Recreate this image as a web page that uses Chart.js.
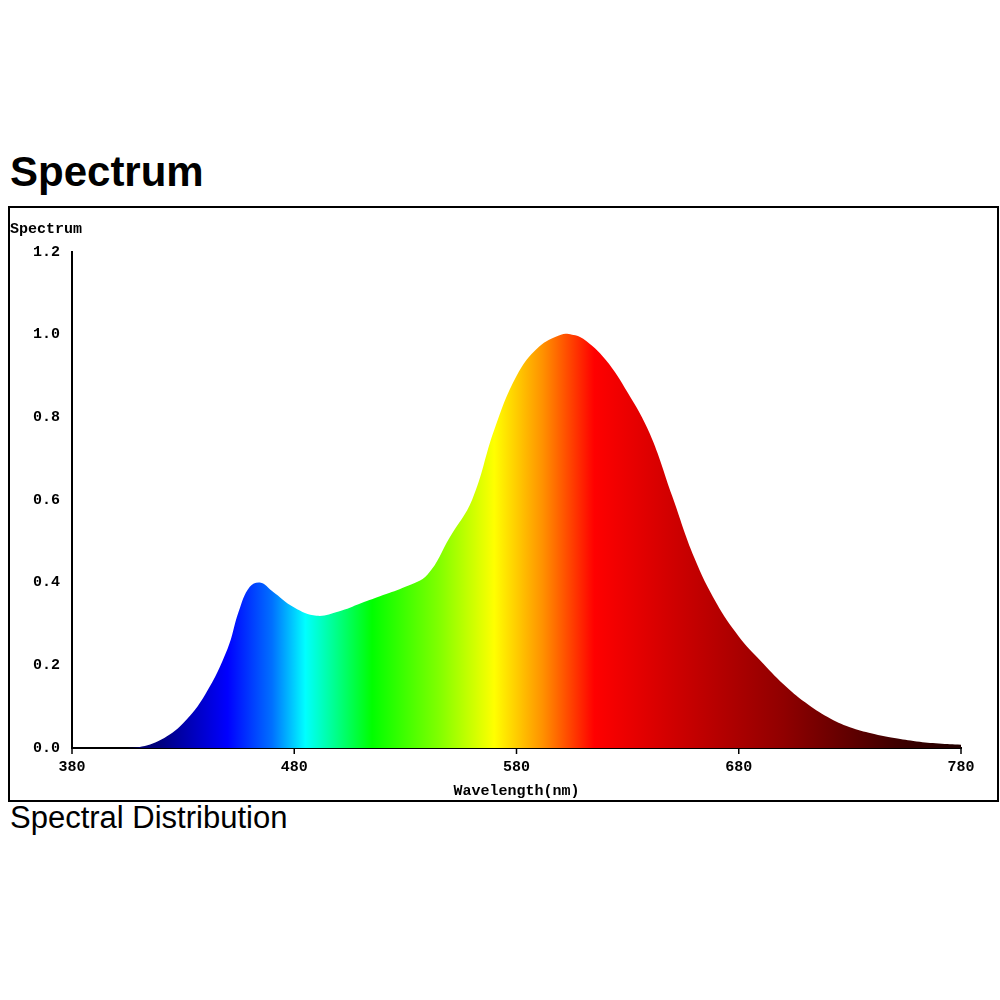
<!DOCTYPE html>
<html><head><meta charset="utf-8">
<script src="https://cdn.jsdelivr.net/npm/chart.js@4"></script>
<style>
body{margin:0;background:#fff;width:1000px;height:1000px;position:relative;font-family:"Liberation Sans",Arial,sans-serif}
#t{position:absolute;left:10px;top:148px;font-size:42px;font-weight:bold}
#b{position:absolute;left:8px;top:206px;width:987px;height:592px;border:2px solid #000}
#s{position:absolute;left:10px;top:800px;font-size:31px}
canvas{position:absolute;left:0;top:0}
</style></head><body>
<div id="t">Spectrum</div>
<div id="b"><canvas id="c" width="987" height="592"></canvas></div>
<div id="s">Spectral Distribution</div>
<script>
const wavelengths=[380,400,410,420,430,440,450,455,460,465,470,480,490,500,510,520,530,540,550,560,570,580,590,600,605,610,620,630,640,650,660,670,680,690,700,710,720,730,740,750,760,770,780];
const values=[0,0,0.002,0.02,0.06,0.13,0.24,0.33,0.39,0.40,0.38,0.34,0.32,0.33,0.35,0.37,0.39,0.42,0.51,0.60,0.77,0.90,0.97,1.0,1.0,0.99,0.94,0.86,0.76,0.61,0.46,0.35,0.27,0.21,0.155,0.11,0.075,0.05,0.035,0.024,0.016,0.011,0.008];
const yTicks=[0,0.2,0.4,0.6,0.8,1.0,1.2];
const xTicks=[380,480,580,680,780];
const colorStops=[[380,'#000040'],[420,'#000080'],[450,'#0000ff'],[470,'#0070ff'],[485,'#00ffff'],[500,'#00ff80'],[515,'#00ff00'],[545,'#80ff00'],[570,'#ffff00'],[592,'#ff9000'],[615,'#ff0000'],[650,'#d00000'],[700,'#900000'],[750,'#400000'],[780,'#200000']];
const mono='"Liberation Mono","Courier New",monospace';
new Chart(document.getElementById('c'),{
 type:'line',
 data:{datasets:[{data:wavelengths.map((w,i)=>({x:w,y:values[i]})),fill:'origin',borderWidth:0,pointRadius:0,tension:0.4,
  backgroundColor:(ctx)=>{const ch=ctx.chart;if(!ch.chartArea)return '#f00';const xs=ch.scales.x;const x0=xs.getPixelForValue(380),x1=xs.getPixelForValue(780);const g=ch.ctx.createLinearGradient(x0,0,x1,0);colorStops.forEach(([w,c])=>g.addColorStop((w-380)/400,c));return g;}}]},
 options:{responsive:false,animation:false,layout:{padding:{left:0,right:36,top:44,bottom:0}},
  plugins:{legend:{display:false},tooltip:{enabled:false},
   title:{display:false}},
  scales:{
   x:{type:'linear',min:380,max:780,afterBuildTicks:s=>{s.ticks=xTicks.map(v=>({value:v}))},
    grid:{display:false,drawTicks:true},border:{color:'#000',width:2},
    ticks:{color:'#000',font:{family:mono,size:15,weight:'bold'},padding:2,maxRotation:0},
    title:{display:true,text:'Wavelength(nm)',color:'#000',font:{family:mono,size:15,weight:'bold'},padding:0},
    afterFit:s=>{s.height=52}},
   y:{min:0,max:1.2,afterBuildTicks:s=>{s.ticks=yTicks.map(v=>({value:v}))},
    grid:{display:false},border:{color:'#000',width:2},
    ticks:{color:'#000',font:{family:mono,size:15,weight:'bold'},callback:v=>v.toFixed(1),padding:4},
    afterFit:s=>{s.width=62}}}},
 plugins:[{id:'yt',afterDraw(ch){const c=ch.ctx;c.save();c.font='bold 15px '+mono;c.fillStyle='#000';c.textBaseline='middle';c.fillText('Spectrum',0,21);
  const xs=ch.scales.x,ys=ch.scales.y;c.strokeStyle='#000';c.lineWidth=1.5;
  xTicks.forEach(v=>{const p=xs.getPixelForValue(v);c.beginPath();c.moveTo(p,ys.bottom);c.lineTo(p,ys.bottom+6);c.stroke();});
  c.restore();}}]
});
</script></body></html>
